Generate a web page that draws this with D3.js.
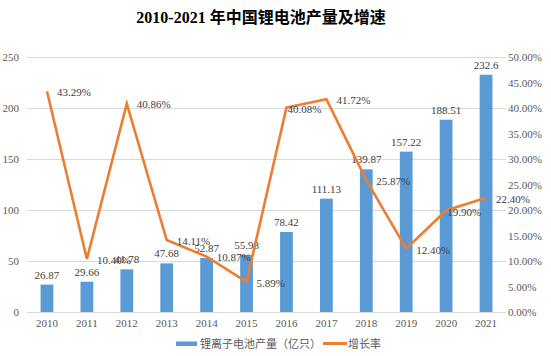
<!DOCTYPE html>
<html><head><meta charset="utf-8">
<script src="https://cdn.jsdelivr.net/npm/d3@7"></script>
<style>
body{margin:0;background:#fff;}
svg{display:block;}
</style></head>
<body>
<script>
const years = ["2010","2011","2012","2013","2014","2015","2016","2017","2018","2019","2020","2021"];
const output = [26.87,29.66,41.78,47.68,52.87,55.98,78.42,111.13,139.87,157.22,188.51,232.6];
const growth = [43.29,10.40,40.86,14.11,10.87,5.89,40.08,41.72,25.87,12.40,19.90,22.40];
const leftTicks = [0,50,100,150,200,250];
const rightTicks = [0,5,10,15,20,25,30,35,40,45,50];
const seriesNames = ["锂离子电池产量（亿只）","增长率"];
const shiftedLabels = ["2016","2020"];

const W=551,H=356;
const m={l:27,r:45,t:57,b:44};
const svg=d3.select("body").append("svg").attr("width",W).attr("height",H);
const serif="'Liberation Serif','Times New Roman','Noto Sans CJK SC',serif";
const grey="#595959";
const blue="#5B9BD5", orange="#ED7D31";

svg.append("text").attr("x",261).attr("y",23).attr("text-anchor","middle")
  .style("font-family",serif).style("font-weight","bold").style("font-size","16px").attr("fill","#000")
  .text("2010-2021 年中国锂电池产量及增速");

const x=d3.scaleBand().domain(years).range([m.l,W-m.r]).paddingInner(0).paddingOuter(0);
const y=d3.scaleLinear().domain([0,250]).range([H-m.b,m.t]);
const y2=d3.scaleLinear().domain([0,50]).range([H-m.b,m.t]);

// gridlines
svg.append("g").selectAll("line").data(leftTicks).join("line")
  .attr("x1",m.l).attr("x2",W-m.r).attr("y1",d=>y(d)+0.5).attr("y2",d=>y(d)+0.5)
  .attr("stroke","#d9d9d9").attr("stroke-width",1);

// left axis
const la=svg.append("g").attr("transform",`translate(${m.l-8},0)`)
  .call(d3.axisLeft(y).tickValues(leftTicks).tickSize(0).tickPadding(0));
la.select(".domain").remove();
la.selectAll("text").style("font-family",serif).style("font-size","11px").attr("fill",grey);

// right axis
const ra=svg.append("g").attr("transform",`translate(${W-m.r+2},0)`)
  .call(d3.axisRight(y2).tickValues(rightTicks).tickSize(0).tickPadding(0).tickFormat(d=>d.toFixed(2)+"%"));
ra.select(".domain").remove();
ra.selectAll("text").style("font-family",serif).style("font-size","11px").attr("fill",grey);

// bottom axis
const ba=svg.append("g").attr("transform",`translate(0,${H-m.b+7})`)
  .call(d3.axisBottom(x).tickSize(0).tickPadding(0));
ba.select(".domain").remove();
ba.selectAll("text").attr("dy","0.71em").style("font-family",serif).style("font-size","11px").attr("fill",grey);

// bars
const bw=x.bandwidth()*0.32;
svg.append("g").selectAll("rect").data(years).join("rect")
  .attr("x",(d)=>x(d)+x.bandwidth()/2-bw/2).attr("width",bw)
  .attr("y",(d,i)=>y(output[i])).attr("height",(d,i)=>y(0)-y(output[i]))
  .attr("fill",blue);

svg.append("g").selectAll("text").data(years).join("text")
  .attr("x",d=>x(d)+x.bandwidth()/2).attr("y",(d,i)=>y(output[i])-6)
  .attr("text-anchor","middle").style("font-family",serif).style("font-size","11px").attr("fill","#404040")
  .text((d,i)=>output[i]);

// line
const line=d3.line().x((d,i)=>x(years[i])+x.bandwidth()/2).y(d=>y2(d));
svg.append("path").datum(growth).attr("d",line).attr("fill","none")
  .attr("stroke",orange).attr("stroke-width",2.6).attr("stroke-linejoin","miter");

svg.append("g").selectAll("text").data(years).join("text")
  .attr("x",d=>x(d)+x.bandwidth()/2+(shiftedLabels.includes(d)?1:10))
  .attr("y",(d,i)=>y2(growth[i])+(shiftedLabels.includes(d)?2:1)).attr("dy","0.35em")
  .style("font-family",serif).style("font-size","11px").attr("fill","#404040")
  .text((d,i)=>growth[i].toFixed(2)+"%");

// legend
const lg=svg.append("g");
lg.append("rect").attr("x",176).attr("y",341.5).attr("width",21).attr("height",4.5).attr("fill",blue);
lg.append("text").attr("x",200).attr("y",344).attr("dy","0.35em").style("font-family",serif)
  .style("font-size","11px").attr("fill",grey).text(seriesNames[0]);
lg.append("line").attr("x1",323).attr("x2",347).attr("y1",343.5).attr("y2",343.5).attr("stroke",orange).attr("stroke-width",3);
lg.append("text").attr("x",348).attr("y",344).attr("dy","0.35em").style("font-family",serif)
  .style("font-size","11px").attr("fill",grey).text(seriesNames[1]);
</script>
</body></html>
